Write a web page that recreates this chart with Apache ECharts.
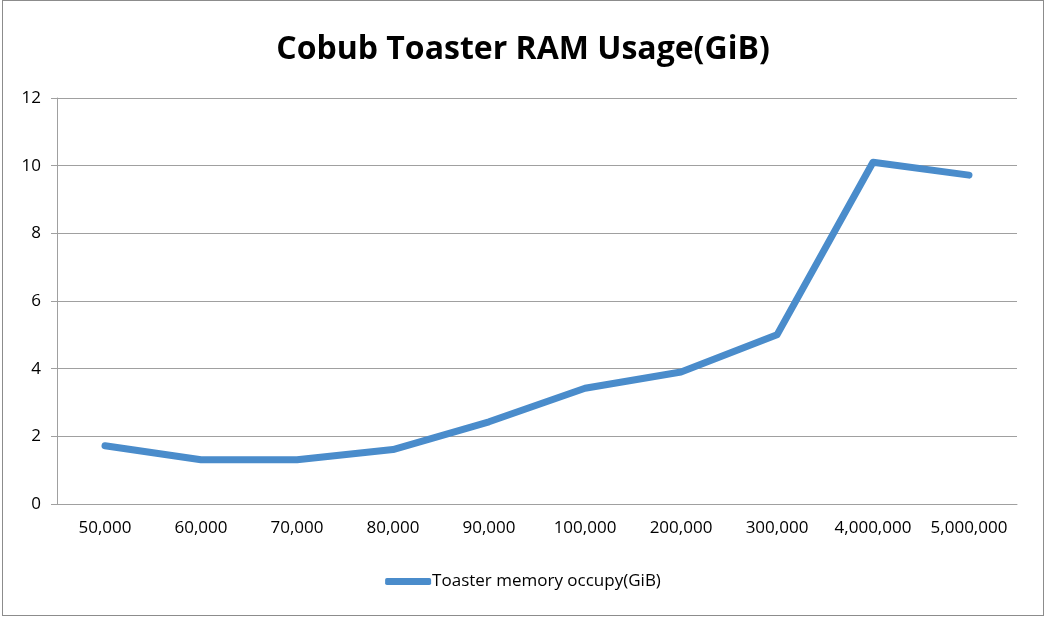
<!DOCTYPE html>
<html>
<head>
<meta charset="utf-8">
<script src="https://cdn.jsdelivr.net/npm/echarts@6/dist/echarts.min.js"></script>
<style>
html,body{margin:0;padding:0;background:#fff;}
#c{position:absolute;left:2px;top:0px;width:1042px;height:616px;border:1px solid #8c8c8c;box-sizing:border-box;}
</style>
</head>
<body>
<div id="c"></div>
<script>
const categories = ['50,000','60,000','70,000','80,000','90,000','100,000','200,000','300,000','4,000,000','5,000,000'];
const memoryGiB = [1.72, 1.31, 1.31, 1.61, 2.43, 3.42, 3.9, 5.0, 10.1, 9.72];
const seriesName = 'Toaster memory occupy(GiB)';

const chart = echarts.init(document.getElementById('c'));
chart.setOption({
  animation: false,
  title: {
    text: 'Cobub Toaster RAM Usage(GiB)',
    left: 'center',
    top: 28,
    textStyle: {fontFamily: 'Open Sans', fontWeight: 'bold', fontSize: 32, color: '#000'}
  },
  legend: {
    bottom: 20,
    left: 'center',
    itemWidth: 46,
    itemHeight: 7,
    itemGap: 4,
    data: [{name: seriesName, icon: 'roundRect'}],
    textStyle: {fontFamily: 'Open Sans', fontSize: 17, color: '#000', padding: [0,0,0,-4]}
  },
  grid: {left: 54, right: 26, top: 97, bottom: 111},
  xAxis: {
    type: 'category',
    data: categories,
    boundaryGap: true,
    axisLine: {lineStyle: {color: '#a0a0a0', width: 1}},
    axisTick: {show: false},
    axisLabel: {fontFamily: 'Open Sans', fontSize: 17, color: '#000', margin: 16, interval: 0, hideOverlap: false}
  },
  yAxis: {
    type: 'value',
    min: 0, max: 12, interval: 2,
    axisLine: {show: true, lineStyle: {color: '#a0a0a0', width: 1}},
    axisTick: {show: true, length: 6, lineStyle: {color: '#a0a0a0'}},
    splitLine: {lineStyle: {color: '#a0a0a0', width: 1}},
    axisLabel: {fontFamily: 'Open Sans', fontSize: 17, color: '#000', margin: 16}
  },
  series: [{
    name: seriesName,
    type: 'line',
    data: memoryGiB,
    symbol: 'none',
    lineStyle: {color: '#4a8ccb', width: 7, cap: 'round', join: 'round'},
    itemStyle: {color: '#4a8ccb'}
  }]
});
</script>
</body>
</html>
